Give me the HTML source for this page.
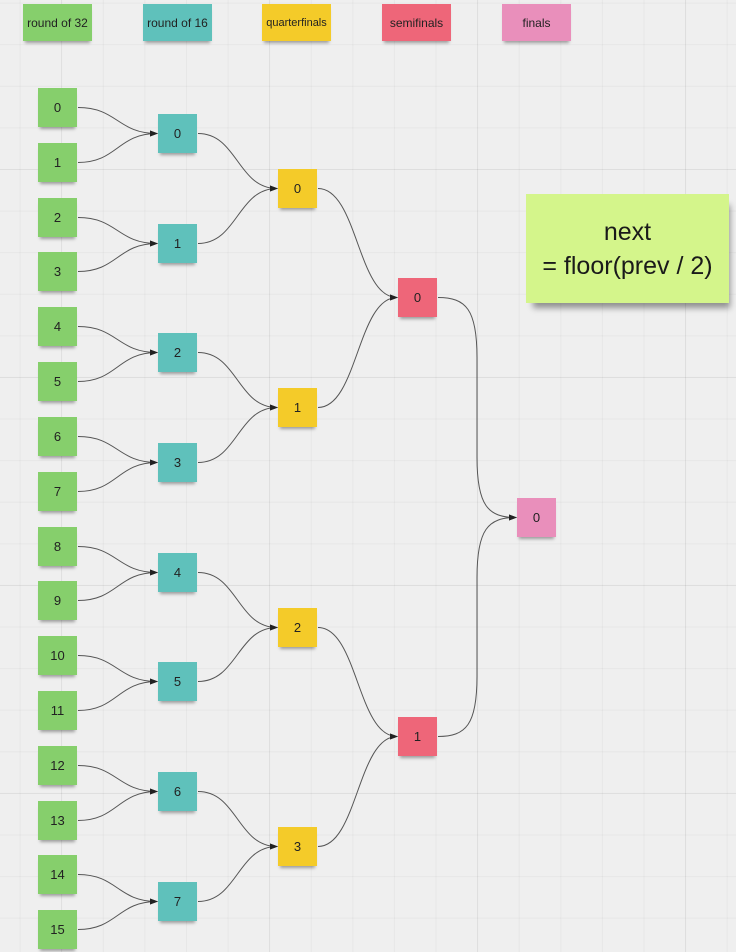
<!DOCTYPE html>
<html><head><meta charset="utf-8"><style>
html,body{margin:0;padding:0}
body{width:736px;height:952px;overflow:hidden;position:relative;background:#efefef;font-family:"Liberation Sans","DejaVu Sans",sans-serif;color:#222}
.grid{position:absolute;left:0;top:0;width:736px;height:952px;
background-image:linear-gradient(to right,rgba(0,0,0,0.035) 1px,transparent 1px),linear-gradient(to bottom,rgba(0,0,0,0.035) 1px,transparent 1px);
background-size:41.6px 41.6px;background-position:19.6px 2.6px}
.grid2{position:absolute;left:0;top:0;width:736px;height:952px;
background-image:linear-gradient(to right,rgba(0,0,0,0.04) 1px,transparent 1px),linear-gradient(to bottom,rgba(0,0,0,0.04) 1px,transparent 1px);
background-size:208px 208px;background-position:61px 169px}
.n{position:absolute;width:39px;height:39px;display:flex;align-items:center;justify-content:center;font-size:13px;box-shadow:0 4px 3px -2px rgba(0,0,0,0.35)}
.h{position:absolute;top:4px;width:69px;height:37px;display:flex;align-items:center;justify-content:center;font-size:12px;box-shadow:0 4px 3px -2px rgba(0,0,0,0.35)}
.g{background:#86cf6c}.t{background:#5fc1bb}.y{background:#f4cb29}.r{background:#ee6679}.p{background:#e98fbb}
svg{position:absolute;left:0;top:0}
.note{position:absolute;left:526px;top:194px;width:203px;height:109px;background:#d4f58b;box-shadow:4px 8px 6px -3px rgba(0,0,0,0.4);display:flex;flex-direction:column;align-items:center;justify-content:center;font-size:25px;line-height:34px;color:#1a1a1a}
</style></head><body>
<div class="grid"></div>
<div class="grid2"></div>
<svg id="s" width="736" height="952"><defs><marker id="a" markerWidth="8" markerHeight="6" refX="7" refY="3" orient="auto" markerUnits="userSpaceOnUse"><path d="M0,0 L8,3 L0,6 z" fill="#222"/></marker></defs></svg>
<div class="h g" style="left:23px">round of 32</div>
<div class="h t" style="left:143px">round of 16</div>
<div class="h y" style="left:262px;font-size:11px">quarterfinals</div>
<div class="h r" style="left:382px">semifinals</div>
<div class="h p" style="left:502px">finals</div>

<div class="n g" style="left:38px;top:88px">0</div>
<div class="n g" style="left:38px;top:143px">1</div>
<div class="n g" style="left:38px;top:198px">2</div>
<div class="n g" style="left:38px;top:252px">3</div>
<div class="n g" style="left:38px;top:307px">4</div>
<div class="n g" style="left:38px;top:362px">5</div>
<div class="n g" style="left:38px;top:417px">6</div>
<div class="n g" style="left:38px;top:472px">7</div>
<div class="n g" style="left:38px;top:527px">8</div>
<div class="n g" style="left:38px;top:581px">9</div>
<div class="n g" style="left:38px;top:636px">10</div>
<div class="n g" style="left:38px;top:691px">11</div>
<div class="n g" style="left:38px;top:746px">12</div>
<div class="n g" style="left:38px;top:801px">13</div>
<div class="n g" style="left:38px;top:855px">14</div>
<div class="n g" style="left:38px;top:910px">15</div>

<div class="n t" style="left:158px;top:114px">0</div>
<div class="n t" style="left:158px;top:224px">1</div>
<div class="n t" style="left:158px;top:333px">2</div>
<div class="n t" style="left:158px;top:443px">3</div>
<div class="n t" style="left:158px;top:553px">4</div>
<div class="n t" style="left:158px;top:662px">5</div>
<div class="n t" style="left:158px;top:772px">6</div>
<div class="n t" style="left:158px;top:882px">7</div>

<div class="n y" style="left:278px;top:169px">0</div>
<div class="n y" style="left:278px;top:388px">1</div>
<div class="n y" style="left:278px;top:608px">2</div>
<div class="n y" style="left:278px;top:827px">3</div>

<div class="n r" style="left:398px;top:278px">0</div>
<div class="n r" style="left:398px;top:717px">1</div>

<div class="n p" style="left:517px;top:498px">0</div>

<div class="note"><div>next</div><div>= floor(prev / 2)</div></div>

<script>
var s=document.getElementById('s');
function c(x1,y1,x2,y2){var m=(x1+x2)/2;var d;
var dy=y2-y1,sg=dy>0?1:-1;
if(Math.abs(dy)>150){d='M'+x1+','+y1+' C'+(x1+28)+','+y1+' '+m+','+(y1+sg*12)+' '+m+','+(y1+sg*60)+' L'+m+','+(y2-sg*60)+' C'+m+','+(y2-sg*12)+' '+(x2-28)+','+y2+' '+x2+','+y2;}
else d='M'+x1+','+y1+' C'+m+','+y1+' '+m+','+y2+' '+x2+','+y2;
var p=document.createElementNS('http://www.w3.org/2000/svg','path');
p.setAttribute('d',d);
p.setAttribute('fill','none');p.setAttribute('stroke','#555');p.setAttribute('stroke-width','1');p.setAttribute('marker-end','url(#a)');s.appendChild(p);}
var r32=[],r16=[],qf=[],sf=[];
var t32=[88,143,198,252,307,362,417,472,527,581,636,691,746,801,855,910];
for(var i=0;i<16;i++)r32.push(t32[i]+19.5);
var t16=[114,224,333,443,553,662,772,882];for(i=0;i<8;i++)r16.push(t16[i]+19.5);
var tq=[169,388,608,827];for(i=0;i<4;i++)qf.push(tq[i]+19.5);
sf=[297.5,736.5];
for(i=0;i<16;i++)c(78,r32[i],157,r16[i>>1]);
for(i=0;i<8;i++)c(198,r16[i],277,qf[i>>1]);
for(i=0;i<4;i++)c(318,qf[i],397,sf[i>>1]);
for(i=0;i<2;i++)c(438,sf[i],516,517.5);
</script>
</body></html>
